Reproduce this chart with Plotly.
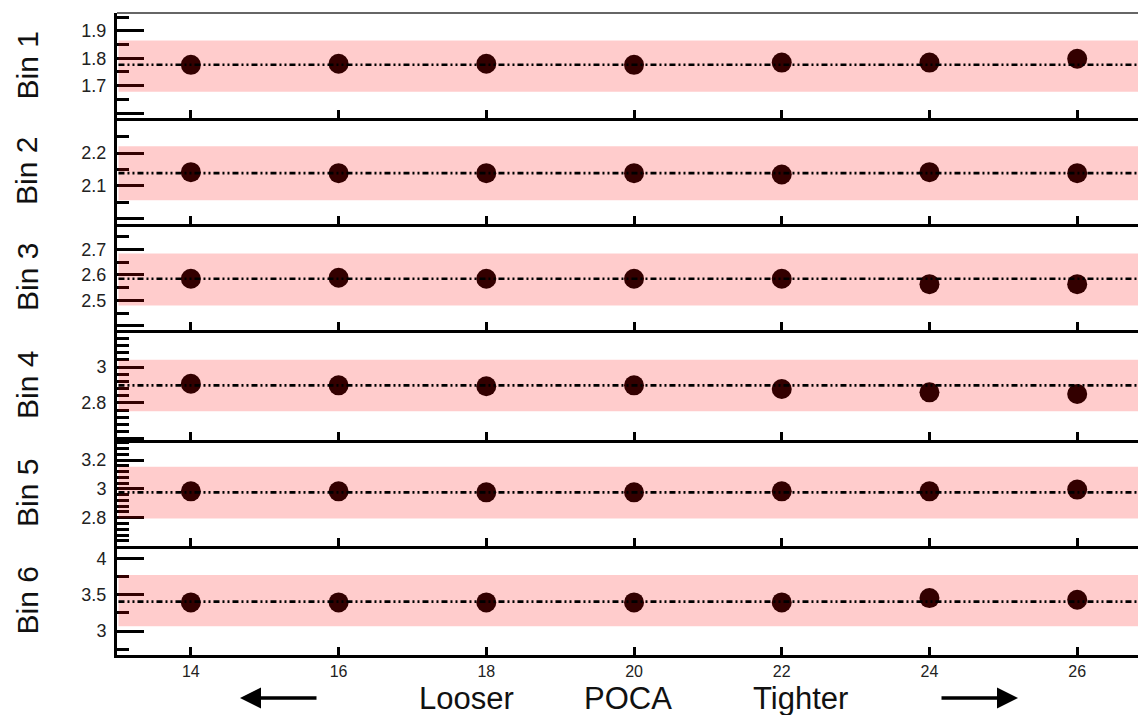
import plotly.graph_objects as go
from plotly.subplots import make_subplots

# ---- data ----
poca_cut = [14, 16, 18, 20, 22, 24, 26]
bin1 = [1.776, 1.780, 1.780, 1.776, 1.784, 1.784, 1.798]
bin2 = [2.142, 2.139, 2.139, 2.139, 2.135, 2.142, 2.139]
bin3 = [2.585, 2.589, 2.585, 2.585, 2.585, 2.564, 2.564]
bin4 = [2.907, 2.898, 2.893, 2.898, 2.878, 2.859, 2.850]
bin5 = [2.983, 2.983, 2.976, 2.976, 2.983, 2.983, 2.995]
bin6 = [3.394, 3.394, 3.394, 3.394, 3.394, 3.453, 3.431]
series = [bin1, bin2, bin3, bin4, bin5, bin6]
bin_labels = ["Bin 1", "Bin 2", "Bin 3", "Bin 4", "Bin 5", "Bin 6"]

nominal = [1.776, 2.139, 2.585, 2.898, 2.976, 3.404]
band_lo = [1.678, 2.056, 2.480, 2.754, 2.794, 3.064]
band_hi = [1.865, 2.221, 2.684, 3.041, 3.153, 3.770]

y_ranges = [[1.582, 1.965], [1.984, 2.307], [2.384, 2.800],
            [2.594, 3.206], [2.604, 3.339], [2.67, 4.17]]
major_vals = [[1.6, 1.7, 1.8, 1.9], [2.0, 2.1, 2.2], [2.4, 2.5, 2.6, 2.7],
              [2.6, 2.8, 3.0, 3.2], [2.6, 2.8, 3.0, 3.2], [3.0, 3.5, 4.0]]
major_text = [["", "1.7", "1.8", "1.9"], ["", "2.1", "2.2"], ["", "2.5", "2.6", "2.7"],
              ["", "2.8", "3", ""], ["", "2.8", "3", "3.2"], ["3", "3.5", "4"]]
minor_vals = [[1.65, 1.75, 1.85, 1.95], [2.05, 2.15, 2.25],
              [2.45, 2.55, 2.65, 2.75],
              [2.64, 2.68, 2.72, 2.76, 2.84, 2.88, 2.92, 2.96, 3.04, 3.08, 3.12, 3.16],
              [2.64, 2.68, 2.72, 2.76, 2.84, 2.88, 2.92, 2.96, 3.04, 3.08, 3.12, 3.16, 3.24, 3.28, 3.32],
              [2.75, 3.25, 3.75]]
x_ticks = [14, 16, 18, 20, 22, 24, 26]
x_range = [13.0, 27.04]

# ---- layout geometry (screen pixels; page body has an 8px margin) ----
OFF = 8
W, H = 1146, 715 - OFF
ML, MR, MT, MB = 117 - OFF, 0, 13 - OFF, 60
bounds_px = [13, 118, 224, 330, 440, 546, 655]
ph = H - MT - MB

def py(p):
    return (H - MB - (p - OFF)) / ph

def px(p):
    return ((p - OFF) - ML) / (W - ML - MR)

FONT = "Liberation Sans, Arial, Helvetica, sans-serif"

fig = make_subplots(rows=6, cols=1, shared_xaxes=True, vertical_spacing=0)

for i in range(6):
    r = i + 1
    fig.add_trace(go.Scatter(
        x=poca_cut, y=series[i], mode="markers",
        marker=dict(size=20, color="#000000", line=dict(width=0)),
        showlegend=False, hoverinfo="skip"), row=r, col=1)

for i in range(6):
    r = i + 1
    yname = "yaxis" if r == 1 else f"yaxis{r}"
    xname = "xaxis" if r == 1 else f"xaxis{r}"
    fig.layout[yname].update(
        domain=[py(bounds_px[r]), py(bounds_px[i])],
        range=y_ranges[i], showgrid=False, zeroline=False,
        showline=True, linewidth=3, linecolor="black",
        ticks="inside", ticklen=27, tickwidth=2.8, tickcolor="black",
        tickmode="array", tickvals=major_vals[i], ticktext=major_text[i],
        tickfont=dict(family=FONT, size=18, color="#222"),
        ticklabelstandoff=4,
        minor=dict(tickmode="array", tickvals=minor_vals[i], ticks="inside",
                   ticklen=12, tickwidth=2.8, tickcolor="black", showgrid=False),
    )
    fig.layout[xname].update(
        range=x_range, showgrid=False, zeroline=False,
        showline=True, linewidth=2.5, linecolor="black",
        ticks="inside", ticklen=8, tickwidth=2.5, tickcolor="black",
        tickmode="array", tickvals=x_ticks,
        tickfont=dict(family=FONT, size=16, color="#222"),
        showticklabels=(r == 6),
    )
    ax_ref = "x" if r == 1 else f"x{r}"
    ay_ref = "y" if r == 1 else f"y{r}"
    # translucent red band drawn above (tints markers and ticks)
    fig.add_shape(type="rect", xref=ax_ref, yref=ay_ref,
                  x0=x_range[0] + 0.02, x1=x_range[1], y0=band_lo[i], y1=band_hi[i],
                  fillcolor="rgba(255,0,0,0.2)", line=dict(width=0), layer="above")
    # nominal dash-dot-dot line
    fig.add_shape(type="line", xref=ax_ref, yref=ay_ref,
                  x0=x_range[0] + 0.02, x1=x_range[1], y0=nominal[i], y1=nominal[i],
                  line=dict(color="black", width=2.6, dash="6px,3px,2px,3px,2px,3px"),
                  layer="above")
    fig.add_annotation(text=bin_labels[i], xref="paper", yref=f"{ay_ref} domain",
                       x=px(27), y=0.5, xanchor="center", yanchor="middle",
                       textangle=-90, showarrow=False,
                       font=dict(family=FONT, size=30, color="#111"))

# top frame line
fig.add_shape(type="line", xref="paper", yref="paper", x0=0, x1=1, y0=1, y1=1,
              line=dict(color="#333", width=1.5), layer="above")

# bottom caption
for txt, cx in [("Looser", 466), ("POCA", 628), ("Tighter", 800)]:
    fig.add_annotation(text=txt, xref="paper", yref="paper", x=px(cx), y=py(698),
                       xanchor="center", yanchor="middle", showarrow=False,
                       borderpad=0,
                       font=dict(family=FONT, size=31, color="#111"))
fig.add_annotation(text="", xref="paper", yref="paper", x=px(240), y=py(698),
                   ax=78, ay=0, showarrow=True, arrowhead=2, arrowsize=1.2,
                   arrowwidth=3.5, arrowcolor="black")
fig.add_annotation(text="", xref="paper", yref="paper", x=px(1018), y=py(698),
                   ax=-78, ay=0, showarrow=True, arrowhead=2, arrowsize=1.2,
                   arrowwidth=3.5, arrowcolor="black")

fig.update_layout(width=W, height=H, margin=dict(l=ML, r=MR, t=MT, b=MB),
                  plot_bgcolor="white", paper_bgcolor="white", showlegend=False)

fig.write_html("out.html")
